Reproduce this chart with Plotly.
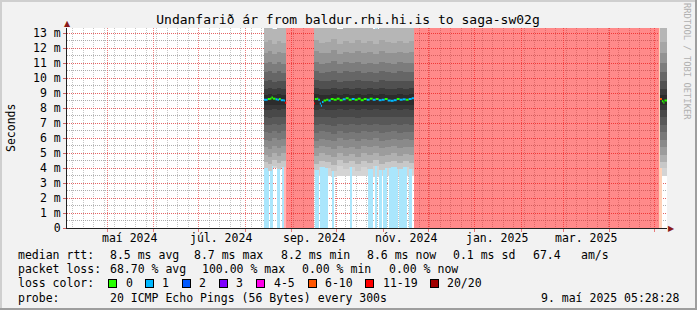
import pandas as pd
import plotly.graph_objects as go

# ---------------- data ----------------
start_time = "2024-04-04 05:28:28"
end_time = "2025-05-09 05:28:28"
y_max = 13.333

y_tick_vals = list(range(14))
y_tick_text = ["0"] + [f"{v} m" for v in range(1, 14)]

month_grid_start = "2024-05-01"
week_grid_start = "2024-05-06"

x_label_dates = ["2024-05-16", "2024-07-16", "2024-09-16", "2024-11-16", "2025-01-16", "2025-03-16"]
x_label_text = ["maí 2024", "júl. 2024", "sep. 2024", "nóv. 2024", "jan. 2025", "mar. 2025"]

# periods with rtt data (smoke), split into chunks
smoke_start = ["2024-08-13 12:40", "2024-08-16 00:00", "2024-08-19 00:00", "2024-08-22 00:00", "2024-08-25 00:00",
               "2024-09-15 22:00", "2024-09-19 00:00", "2024-09-23 00:00", "2024-09-27 00:00", "2024-10-01 00:00",
               "2024-10-05 00:00", "2024-10-09 00:00", "2024-10-13 00:00", "2024-10-17 00:00", "2024-10-21 00:00",
               "2024-10-25 00:00", "2024-10-29 00:00", "2024-11-02 00:00", "2024-11-06 00:00", "2024-11-10 00:00",
               "2024-11-14 00:00", "2024-11-18 00:00",
               "2025-05-04 12:40"]
smoke_end = ["2024-08-16 00:00", "2024-08-19 00:00", "2024-08-22 00:00", "2024-08-25 00:00", "2024-08-28 10:00",
             "2024-09-19 00:00", "2024-09-23 00:00", "2024-09-27 00:00", "2024-10-01 00:00", "2024-10-05 00:00",
             "2024-10-09 00:00", "2024-10-13 00:00", "2024-10-17 00:00", "2024-10-21 00:00", "2024-10-25 00:00",
             "2024-10-29 00:00", "2024-11-02 00:00", "2024-11-06 00:00", "2024-11-10 00:00", "2024-11-14 00:00",
             "2024-11-18 00:00", "2024-11-21 12:40",
             "2025-05-09 05:28"]
smoke_spread = [1.00, 1.04, 0.97, 1.02, 0.98,
                1.03, 0.98, 1.00, 1.05, 0.97, 1.02, 0.99, 1.04, 0.98, 1.01, 0.97, 1.03, 1.00, 0.98, 1.02, 0.99,
                1.01,
                1.00]
smoke_floor = [4.0, 4.0, 4.0, 4.0, 4.0,
               3.45, 3.5, 3.45, 3.4, 3.45, 3.5, 3.45, 3.45, 3.5, 3.45, 3.4, 3.45, 3.5, 3.45, 3.45, 3.5, 3.45,
               3.5]
smoke_center = 8.5
smoke_levels = [4.0, 4.4, 4.9, 5.4, 5.9, 6.4, 6.9, 7.4, 7.9, 8.2, 8.9, 9.3, 9.8, 10.4, 11.0, 11.7, 12.4, 13.4]
smoke_grey = ["#c8c8c8", "#b0b0b0", "#9c9c9c", "#8a8a8a", "#787878", "#686868", "#585858", "#484848",
              "#383838", "#2c2c2c", "#3c3c3c", "#505050", "#666666", "#7c7c7c", "#929292", "#a6a6a6", "#b6b6b6"]
floor_grey = "#d4d4d4"

# loss background periods (number of lost pings out of 20)
loss_start = ["2024-08-13 12:40", "2024-08-18 05:00", "2024-08-22 05:00", "2024-08-25 12:00", "2024-08-27 12:00",
              "2024-08-28 10:00",
              "2024-09-16 12:00", "2024-09-19 20:00", "2024-09-27 20:00", "2024-10-10 05:00", "2024-10-21 20:00",
              "2024-10-26 12:00", "2024-10-29 05:00", "2024-10-31 20:00", "2024-11-04 20:00", "2024-11-11 12:00",
              "2024-11-18 05:00",
              "2024-11-21 12:40", "2025-05-04 12:40"]
loss_end = ["2024-08-16 22:00", "2024-08-19 12:00", "2024-08-24 05:00", "2024-08-27 12:00", "2024-08-28 10:00",
            "2024-09-15 22:00",
            "2024-09-19 05:00", "2024-09-25 05:00", "2024-09-29 05:00", "2024-10-11 05:00", "2024-10-25 05:00",
            "2024-10-27 20:00", "2024-10-31 05:00", "2024-11-03 12:00", "2024-11-10 20:00", "2024-11-16 20:00",
            "2024-11-20 05:00",
            "2025-05-04 12:40", "2025-05-05 20:00"]
loss_count = [1, 1, 1, 1, 15, 20, 1, 1, 1, 1, 1, 1, 1, 1, 1, 1, 1, 20, 8]

# median rtt (ms) and loss per step
med_time = ["2024-08-13 12:40", "2024-08-16 00:00", "2024-08-17 12:00", "2024-08-18 12:00", "2024-08-19 12:00",
            "2024-08-21 06:00", "2024-08-22 12:00", "2024-08-23 12:00", "2024-08-24 18:00", "2024-08-26 18:00",
            "2024-08-27 12:00",
            "2024-09-15 22:00", "2024-09-16 12:00", "2024-09-17 18:00", "2024-09-18 18:00", "2024-09-19 18:00",
            "2024-09-20 12:00", "2024-09-21 06:00", "2024-09-22 06:00", "2024-09-24 00:00", "2024-09-25 12:00",
            "2024-09-27 00:00", "2024-09-29 00:00", "2024-10-01 00:00", "2024-10-03 00:00", "2024-10-05 00:00",
            "2024-10-07 00:00", "2024-10-09 00:00", "2024-10-11 00:00", "2024-10-13 00:00", "2024-10-15 00:00",
            "2024-10-17 00:00", "2024-10-19 00:00", "2024-10-21 00:00", "2024-10-23 00:00", "2024-10-25 00:00",
            "2024-10-27 00:00", "2024-10-29 00:00", "2024-10-31 00:00", "2024-11-02 00:00", "2024-11-04 00:00",
            "2024-11-06 00:00", "2024-11-08 00:00", "2024-11-10 00:00", "2024-11-12 00:00", "2024-11-14 00:00",
            "2024-11-16 00:00", "2024-11-18 00:00", "2024-11-20 00:00",
            "2025-05-04 12:40", "2025-05-05 20:00", "2025-05-06 20:00", "2025-05-07 12:00"]
med_value = [8.55, 8.6, 8.62, 8.7, 8.62, 8.58, 8.55, 8.6, 8.52, 8.5, 8.35,
             8.3, 8.6, 8.62, 8.55, 8.3, 8.15, 8.4, 8.5, 8.55, 8.5,
             8.6, 8.55, 8.62, 8.52, 8.58, 8.65, 8.55, 8.6, 8.55, 8.62,
             8.52, 8.6, 8.55, 8.62, 8.55, 8.6, 8.52, 8.55, 8.6, 8.5,
             8.48, 8.52, 8.6, 8.55, 8.58, 8.55, 8.6, 8.65,
             8.6, 8.45, 8.35, 8.5]
med_loss = [1, 0, 0, 0, 0, 1, 1, 0, 1, 1, 15,
            15, 0, 0, 1, 1, 1, 1, 0, 0, 1,
            0, 0, 0, 0, 1, 0, 0, 1, 0, 0,
            0, 0, 1, 0, 1, 0, 1, 1, 0, 1,
            1, 1, 0, 1, 1, 0, 1, 1,
            8, 0, 0, 0]

legend_labels = ["0", "1", "2", "3", "4-5", "6-10", "11-19", "20/20"]
legend_colors = ["#26ff00", "#00b8ff", "#0059ff", "#7e00ff", "#ff00ea", "#ff5500", "#ff0000", "#a10000"]
loss_bg_fill = ["rgba(255,255,255,0)", "#aae6fc", "#a6c6fc", "#d2a6fc",
                "#fca6f6", "#ffd2b8", "#ffb6b6", "rgba(255,0,0,0.46)"]

stats_rtt = ["8.5 ms avg", "8.7 ms max", "8.2 ms min", "8.6 ms now", "0.1 ms sd", "67.4", "am/s"]
stats_loss = ["68.70 % avg", "100.00 % max", "0.00 % min", "0.00 % now"]
probe_text = "20 ICMP Echo Pings (56 Bytes) every 300s"
stamp_text = "9. maí 2025 05:28:28"
title_text = "Undanfarið ár from baldur.rhi.hi.is to saga-sw02g"

# ---------------- layout geometry (pixels) ----------------
W, H = 697, 310
PL, PR, PT, PB = 67, 667, 28, 228
MONO = "DejaVu Sans Mono"
FS = 11.5


def px(xp):
    return (xp - PL) / (PR - PL)


def py(yp):
    return (PB - yp) / (PB - PT)


def bucket(n):
    if n <= 3:
        return n
    if n <= 5:
        return 4
    if n <= 10:
        return 5
    if n <= 19:
        return 6
    return 7


def centers_widths(s, e):
    s = pd.to_datetime(pd.Series(s))
    e = pd.to_datetime(pd.Series(e))
    c = s + (e - s) / 2
    w = (e - s).dt.total_seconds() * 1000.0
    return c.dt.strftime("%Y-%m-%d %H:%M:%S").tolist(), w.tolist()


fig = go.Figure()

sc, sw = centers_widths(smoke_start, smoke_end)
lvl = [[smoke_center + sp * (v - smoke_center) for v in smoke_levels] for sp in smoke_spread]

# lowest smoke layer (drawn below the loss colours)
fig.add_trace(go.Bar(x=sc, width=sw, base=smoke_floor, y=[l[0] - f for l, f in zip(lvl, smoke_floor)],
                     marker=dict(color=floor_grey, line=dict(width=0)), hoverinfo="skip"))

# loss background
lc, lw = centers_widths(loss_start, loss_end)
fig.add_trace(go.Bar(x=lc, width=lw, y=[y_max] * len(lc), base=[0] * len(lc),
                     marker=dict(color=[loss_bg_fill[bucket(n)] for n in loss_count], line=dict(width=0)),
                     hoverinfo="skip"))

# smoke
for k in range(len(smoke_levels) - 1):
    fig.add_trace(go.Bar(x=sc, width=sw, base=[l[k] for l in lvl], y=[l[k + 1] - l[k] for l in lvl],
                         marker=dict(color=smoke_grey[k], line=dict(width=0)), hoverinfo="skip"))

# median line, coloured by loss
mt = pd.to_datetime(pd.Series(med_time))
s_st = pd.to_datetime(pd.Series(smoke_start))
s_en = pd.to_datetime(pd.Series(smoke_end))
seg_x = {b: [] for b in range(8)}
seg_y = {b: [] for b in range(8)}
for i, t in enumerate(mt):
    t_next = mt[i + 1] if i + 1 < len(mt) else s_en.iloc[-1]
    j = [k for k in range(len(s_st)) if s_st[k] <= t < s_en[k]][0]
    while j + 1 < len(s_st) and s_st[j + 1] == s_en[j]:
        j += 1
    t_end = min(t_next, s_en[j])
    b = bucket(med_loss[i])
    seg_x[b] += [t.strftime("%Y-%m-%d %H:%M"), t_end.strftime("%Y-%m-%d %H:%M"), None]
    seg_y[b] += [med_value[i], med_value[i], None]
for b in range(8):
    if seg_x[b]:
        fig.add_trace(go.Scatter(x=seg_x[b], y=seg_y[b], mode="lines",
                                 line=dict(color=legend_colors[b], width=2),
                                 connectgaps=False, hoverinfo="skip"))

# ---------------- axes ----------------
fig.update_xaxes(type="date", range=[start_time, end_time], showticklabels=False,
                 showgrid=True, gridcolor="rgba(232,96,96,0.8)", griddash="1px,1px", gridwidth=1,
                 tick0=month_grid_start, dtick="M1", ticks="outside", ticklen=3,
                 tickcolor="rgba(230,110,110,0.9)",
                 minor=dict(dtick=7 * 86400000, tick0=week_grid_start, showgrid=True,
                            gridcolor="rgba(150,150,150,0.55)", griddash="1px,1px", ticks=""),
                 showline=True, linecolor="#202020", linewidth=1, zeroline=False, fixedrange=True)
fig.update_yaxes(range=[0, y_max], tickvals=y_tick_vals, ticktext=y_tick_text,
                 showgrid=True, gridcolor="rgba(232,96,96,0.95)", griddash="1px,1px", gridwidth=1,
                 ticks="outside", ticklen=3, tickcolor="rgba(200,80,80,0.9)",
                 minor=dict(dtick=0.5, showgrid=True, gridcolor="rgba(140,140,140,0.7)",
                            griddash="1px,1px", ticks=""),
                 tickfont=dict(family=MONO, size=FS, color="#000000"),
                 showline=True, linecolor="#202020", linewidth=1, zeroline=False, fixedrange=True)

ann = []
for d, t in zip(x_label_dates, x_label_text):
    ann.append(dict(x=d, xref="x", y=py(238), yref="paper", text=t, showarrow=False,
                    xanchor="center", yanchor="middle", font=dict(family=MONO, size=FS, color="#000")))
ann.append(dict(x=0, xref="paper", y=py(24), yref="paper", text="▲", showarrow=False,
                xanchor="center", yanchor="middle", font=dict(family="DejaVu Sans", size=8, color="#8b1a1a")))
ann.append(dict(x=px(671), xref="paper", y=0, yref="paper", text="▶", showarrow=False,
                xanchor="center", yanchor="middle", font=dict(family="DejaVu Sans", size=8, color="#8b1a1a")))
ann.append(dict(x=px(11), xref="paper", y=0.5, yref="paper", text="Seconds", textangle=-90, showarrow=False,
                xanchor="center", yanchor="middle", font=dict(family=MONO, size=FS, color="#000")))
ann.append(dict(x=px(687), xref="paper", y=py(61), yref="paper", text="RRDTOOL / TOBI OETIKER", textangle=90,
                showarrow=False, xanchor="center", yanchor="middle",
                font=dict(family=MONO, size=8.8, color="#b0b0b0")))


def text_at(xp, yp, t, anchor="left"):
    ann.append(dict(x=px(xp), xref="paper", y=py(yp), yref="paper", text=t, showarrow=False,
                    xanchor=anchor, yanchor="middle", font=dict(family=MONO, size=FS, color="#000")))


row_y = [255, 269, 283, 298]
text_at(16, row_y[0], "median rtt:")
for xp, t in zip([108, 192, 279, 365, 451, 531, 579], stats_rtt):
    text_at(xp, row_y[0], t)
text_at(16, row_y[1], "packet loss:")
for xp, t in zip([108, 200, 300, 387], stats_loss):
    text_at(xp, row_y[1], t)
text_at(16, row_y[2], "loss color:")
box_x = [108, 145, 182, 219, 256, 308, 365, 430]
lab_x = [123.5, 160, 197, 234, 271.5, 322.5, 381, 445]
for bx, lx, lab, col in zip(box_x, lab_x, legend_labels, legend_colors):
    ann.append(dict(x=px(bx), xref="paper", y=py(row_y[2]), yref="paper", text=" ", showarrow=False,
                    xanchor="left", yanchor="middle", width=7, height=7, borderpad=0, borderwidth=1,
                    bordercolor="#000", bgcolor=col, font=dict(size=4)))
    text_at(lx, row_y[2], lab)
text_at(16, row_y[3], "probe:")
text_at(108, row_y[3], probe_text)
text_at(682, row_y[3], stamp_text, anchor="right")

shapes = []
for (x0, x1, y0, y1, c) in [(0, W, 0, 2, "#cfcfcf"), (0, 2, 0, H, "#cfcfcf"),
                            (0, W, H - 2, H, "#9e9e9e"), (W - 2, W, 0, H, "#9e9e9e")]:
    shapes.append(dict(type="rect", xref="paper", yref="paper", x0=px(x0), x1=px(x1), y0=py(y1), y1=py(y0),
                       line=dict(width=0), fillcolor=c, layer="above"))

fig.update_layout(width=W, height=H, margin=dict(l=PL, r=W - PR, t=PT, b=H - PB, pad=0),
                  paper_bgcolor="#f2f2f2", plot_bgcolor="#ffffff", showlegend=False,
                  barmode="overlay", bargap=0,
                  title=dict(text=title_text, x=348 / W, xanchor="center", xref="container",
                             y=1 - 19 / H, yanchor="middle", yref="container",
                             font=dict(family=MONO, size=13, color="#000")),
                  annotations=ann, shapes=shapes, hovermode=False)

fig.write_html("out.html")
